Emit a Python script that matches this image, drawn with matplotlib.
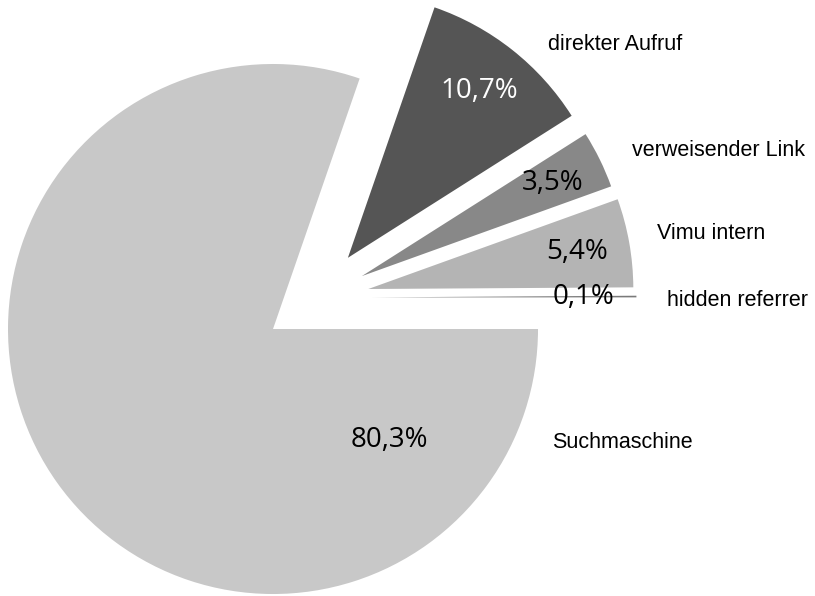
import numpy as np
import matplotlib
matplotlib.use("Agg")
import matplotlib.pyplot as plt

# data (counterclockwise from 3 o'clock)
categories = ["hidden referrer", "Vimu intern", "verweisender Link", "direkter Aufruf", "Suchmaschine"]
shares = [0.1, 5.4, 3.5, 10.7, 80.3]
colors = ["#7a7a7a", "#b4b4b4", "#888888", "#555555", "#c8c8c8"]
pct_colors = ["black", "black", "black", "white", "black"]
exploded = [True, True, True, True, False]

fig = plt.figure(figsize=(8.15, 5.96), dpi=100)
ax = fig.add_axes([0, 0, 1, 1])

wedges, _ = ax.pie(shares, colors=colors, startangle=0, counterclock=True,
                   radius=1, wedgeprops=dict(linewidth=0))

# the exploded group is pushed out between each slice's own direction
# and the direction of the whole group
group_end = sum(s for s, e in zip(shares, exploded) if e) / 100 * 360
group_mid = group_end / 2
dist = 0.39
pct_dist = 0.8

for w, v, e, c in zip(wedges, shares, exploded, pct_colors):
    mid = (w.theta1 + w.theta2) / 2
    if e:
        ang = np.deg2rad((mid + group_mid) / 2)
        cx, cy = dist * np.cos(ang), dist * np.sin(ang)
        w.set_center((cx, cy))
        tx = cx + pct_dist * np.cos(np.deg2rad(mid))
        ty = cy + pct_dist * np.sin(np.deg2rad(mid))
    else:
        tx, ty = 0.44, -0.42
    ax.text(tx, ty, f"{v:.1f}%".replace(".", ","), ha="center", va="center",
            color=c, fontsize=20, family="Open Sans")

# category labels (placed to the right of the pie)
label_pos = [(1.487, 0.108), (1.449, 0.362), (1.355, 0.675), (1.038, 1.072), (1.053, -0.43)]
for name, (lx, ly) in zip(categories, label_pos):
    ax.text(lx, ly, name, ha="left", va="center", fontsize=15.5,
            family="Liberation Sans", color="black")

ax.set_xlim(-1.030, 2.045)
ax.set_ylim(-1.0075, 1.2415)
ax.set_aspect("equal")
ax.axis("off")

fig.savefig("out.png", dpi=100)
